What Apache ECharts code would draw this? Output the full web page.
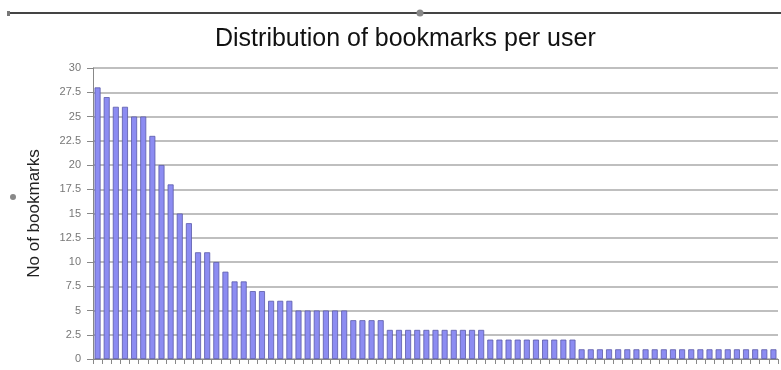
<!DOCTYPE html>
<html>
<head>
<meta charset="utf-8">
<script src="https://cdn.jsdelivr.net/npm/echarts@6/dist/echarts.min.js"></script>
<style>
  html, body { margin: 0; padding: 0; background: #fff; }
  #chart { width: 781px; height: 370px; }
</style>
</head>
<body>
<div id="chart"></div>
<script>
// bookmarks per user, sorted descending (75 users visible)
const bookmarks = [
  28, 27, 26, 26, 25, 25, 23, 20, 18, 15, 14, 11, 11, 10, 9, 8, 8, 7, 7,
  6, 6, 6,
  5, 5, 5, 5, 5, 5,
  4, 4, 4, 4,
  3, 3, 3, 3, 3, 3, 3, 3, 3, 3, 3,
  2, 2, 2, 2, 2, 2, 2, 2, 2, 2,
  1, 1, 1, 1, 1, 1, 1, 1, 1, 1, 1, 1, 1, 1, 1, 1, 1, 1, 1, 1, 1, 1
]
const users = bookmarks.map((v, i) => 'u' + (i + 1))
const yTicks = { min: 0, max: 30, step: 2.5 }

const chart = echarts.init(document.getElementById('chart'))

chart.setOption({
  animation: false,
  textStyle: { fontFamily: 'Liberation Sans, Arial, sans-serif' },
  title: {
    text: 'Distribution of bookmarks per user',
    left: 210,
    top: 22,
    textStyle: { fontSize: 25, fontWeight: 'normal', color: '#111' }
  },
  grid: { left: 93, right: 3, top: 68, bottom: 11 },
  xAxis: {
    type: 'category',
    data: users,
    axisLine: { lineStyle: { color: '#888' } },
    axisTick: { show: true, interval: 0, length: 5, lineStyle: { color: '#888' } },
    axisLabel: { show: false }
  },
  yAxis: {
    type: 'value',
    min: yTicks.min,
    max: yTicks.max,
    interval: yTicks.step,
    name: 'No of bookmarks',
    nameLocation: 'middle',
    nameGap: 50,
    nameTextStyle: { fontSize: 17, color: '#222' },
    axisLine: { show: true, lineStyle: { color: '#888' } },
    axisTick: { show: true, length: 6, lineStyle: { color: '#888' } },
    axisLabel: { fontSize: 11, color: '#777', margin: 12 },
    splitLine: { lineStyle: { color: '#aaa', width: 1.5 } }
  },
  series: [
    {
      type: 'bar',
      data: bookmarks,
      barWidth: 6,
      itemStyle: { color: '#8c8cf2', borderColor: '#5a5aa8', borderWidth: 0.8 }
    }
  ],
  // selection frame bits from the screenshot
  graphic: [
    { type: 'line', shape: { x1: 8, y1: 13, x2: 781, y2: 13 }, style: { stroke: '#444', lineWidth: 2 } },
    { type: 'circle', shape: { cx: 420, cy: 13, r: 3.5 }, style: { fill: '#888' } },
    { type: 'rect', shape: { x: 7, y: 11, width: 3, height: 5 }, style: { fill: '#777' } },
    { type: 'circle', shape: { cx: 13, cy: 197, r: 3 }, style: { fill: '#888' } }
  ]
})
</script>
</body>
</html>
